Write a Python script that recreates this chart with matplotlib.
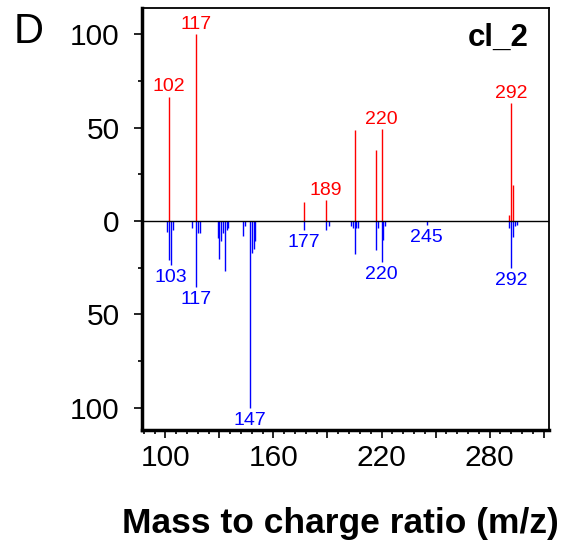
import matplotlib
matplotlib.use("Agg")
import matplotlib.pyplot as plt
from matplotlib.ticker import FixedLocator, MultipleLocator, FuncFormatter

plt.rcParams['font.family'] = ['Liberation Sans', 'DejaVu Sans']

# upper spectrum (red)
pos_mz = [102, 117, 177, 189, 205, 217, 220, 291, 292, 293]
pos_int = [66.5, 100, 10, 11, 48.7, 38, 49.2, 3, 63, 19]
pos_labels = [102, 117, 189, 220, 292]

# lower spectrum (blue), given as positive intensities
neg_mz = [101, 102, 103, 104, 115, 117, 118, 119, 129, 130, 131, 132, 133, 134, 135,
          143, 144, 147, 148, 149, 150, 177, 189, 191, 203, 204, 205, 206, 207,
          217, 218, 220, 221, 222, 245, 291, 292, 293, 294, 295]
neg_int = [5.7, 21, 23.5, 5, 4, 35.5, 6.6, 6.6, 9, 20.5, 11, 6.6, 27, 5, 4,
           8, 3, 100, 17, 15, 11, 5, 5, 2.7, 2.7, 4, 18, 4, 4,
           15.5, 4, 22, 10, 3, 2, 4, 25, 8.5, 3, 2]
neg_labels = [103, 117, 147, 177, 220, 245, 292]

fig = plt.figure(figsize=(5.72, 5.45), dpi=100)
ax = fig.add_axes([142/572, 1-430/545, (549-142)/572, (430-8)/545])

ax.vlines(pos_mz, 0, pos_int, color='#ff0000', lw=1.0)
ax.vlines(neg_mz, 0, [-v for v in neg_int], color='#0000ff', lw=1.0)
ax.axhline(0, color='black', lw=1)

for mz in pos_labels:
    h = max(v for m, v in zip(pos_mz, pos_int) if m == mz)
    ax.annotate(str(mz), (mz, h), xytext=(0, 1), textcoords='offset points',
                ha='center', va='bottom', color='#ff0000', fontsize=14)
for mz in neg_labels:
    h = max(v for m, v in zip(neg_mz, neg_int) if m == mz)
    ax.annotate(str(mz), (mz, -h), xytext=(0, -3), textcoords='offset points',
                ha='center', va='top', color='#0000ff', fontsize=14)

ax.set_xlim(87, 313)
ax.set_ylim(-112, 114)

ax.xaxis.set_major_locator(MultipleLocator(30, offset=10))
ax.xaxis.set_minor_locator(MultipleLocator(6, offset=4))
ax.xaxis.set_major_formatter(FuncFormatter(lambda v, p: f"{v:.0f}" if round(v) % 60 == 40 else ""))
ax.yaxis.set_major_locator(FixedLocator([-100, -50, 0, 50, 100]))
ax.yaxis.set_minor_locator(FixedLocator([-75, -25, 25, 75]))
ax.yaxis.set_major_formatter(FuncFormatter(lambda v, p: f"{abs(v):.0f}"))

ax.tick_params(axis='both', which='major', length=6, width=1.2, labelsize=21.5)
ax.tick_params(axis='both', which='minor', length=3, width=1.2)
ax.tick_params(axis='y', which='major', pad=10)
ax.tick_params(axis='x', which='major', pad=4)

for s in ['left', 'bottom']:
    ax.spines[s].set_linewidth(2.5)
for s in ['top', 'right']:
    ax.spines[s].set_linewidth(1.3)

ax.text(0.95, 0.965, "cl_2", transform=ax.transAxes, ha='right', va='top',
        fontsize=22.5, fontweight='bold')
fig.text(29/572, 1-32/545, "D", ha='center', va='center', fontsize=30)
fig.text(340/572, 1-533/545, "Mass to charge ratio (m/z)", ha='center', va='baseline',
         fontsize=25.5, fontweight='bold')

fig.savefig("out.png", dpi=100)
